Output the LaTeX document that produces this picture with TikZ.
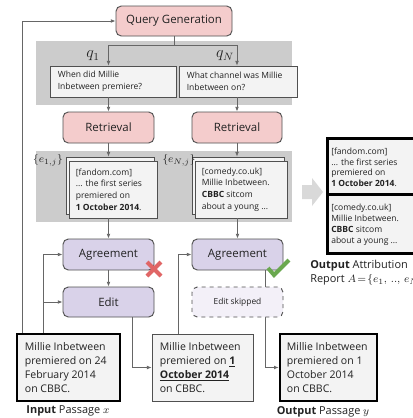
\documentclass[tikz,border=0pt]{standalone}
\usepackage{fontspec}
\setmainfont{Open Sans}
\usetikzlibrary{calc,arrows.meta}
\definecolor{pinkf}{HTML}{F4CCCC}
\definecolor{lavf}{HTML}{D9D2E9}
\definecolor{bandg}{HTML}{CCCCCC}
\definecolor{boxg}{HTML}{F3F3F3}
\definecolor{edgeg}{HTML}{505050}
\definecolor{conng}{HTML}{666666}
\definecolor{xred}{HTML}{E06666}
\definecolor{okgreen}{HTML}{6AA84F}
\definecolor{bigarrow}{HTML}{D9D9D9}
\definecolor{skipf}{HTML}{F3F0F8}
\definecolor{txt}{HTML}{222222}
\begin{document}
\begin{tikzpicture}[x=0.75pt,y=-0.75pt,
  wh/.style 2 args={minimum width=#1*0.75pt, minimum height=#2*0.75pt},
  stage/.style={draw=edgeg, line width=0.7pt, rounded corners=4pt, inner sep=0pt,
    text=txt, font=\fontsize{8.6}{10}\selectfont},
  pinkstage/.style={stage, fill=pinkf},
  lavstage/.style={stage, fill=lavf},
  skipbox/.style={draw=edgeg, dashed, line width=0.7pt, rounded corners=4pt, fill=skipf,
    inner sep=0pt, text=txt, font=\fontsize{6.3}{8}\selectfont},
  qbox/.style={draw=edgeg, fill=boxg, line width=0.6pt, inner sep=0pt},
  qtext/.style={inner sep=0pt, align=left, text=txt, font=\fontsize{6.4}{9}\selectfont},
  dtext/.style={inner sep=0pt, align=left, text=txt, font=\fontsize{6.4}{8.8}\selectfont},
  rtext/.style={inner sep=0pt, align=left, text=txt, font=\fontsize{6.4}{8.1}\selectfont},
  pass/.style={draw=edgeg, fill=boxg, line width=0.6pt, inner sep=0pt},
  thickpass/.style={draw=black, fill=boxg, line width=2pt, inner sep=0pt},
  ptext/.style={inner sep=0pt, align=left, text=txt, font=\fontsize{7.9}{10.3}\selectfont},
  lab/.style={inner sep=0pt, text=txt, font=\fontsize{8.2}{10.5}\selectfont},
  mlab/.style={inner sep=0pt, text=txt},
  conn/.style={draw=conng, line width=0.6pt, -{Latex[length=3.5pt,width=2.8pt]}},
  plain/.style={draw=conng, line width=0.6pt}
]
\fill[white] (0,0) rectangle (413,418);
\useasboundingbox (0,0) rectangle (413,418);

% grey bands
\fill[bandg] (36,41) rectangle (292,105);
\fill[bandg] (36,151) rectangle (292,222);

% query generation
\node[pinkstage, wh={116}{30}] (qg) at (174,21) {Query Generation};

% questions
\node[qbox, wh={126}{31}] (q1) at (113,81.5) {};
\node[qtext, anchor=west] (q1t) at ($(q1.west)+(8,0)$) {When did Millie\\Inbetween premiere?};
\node[qbox, wh={118}{31}] (qN) at (238,81.5) {};
\node[qtext, anchor=west] (qNt) at ($(qN.west)+(8,0)$) {What channel was Millie\\Inbetween on?};
\node[mlab, font=\fontsize{12}{12}\selectfont] (q1l) at (93,56) {$q_{1}$};
\node[mlab, font=\fontsize{12}{12}\selectfont] (qNl) at (225,56) {$q_{N}$};

% retrieval
\node[pinkstage, wh={91}{31}] (r1) at (108.5,127.5) {Retrieval};
\node[pinkstage, wh={90}{31}] (rN) at (237,127.5) {Retrieval};

% evidence stacks
\node[qbox, wh={88}{57}] (d1b) at (110,185.5) {};
\node[qbox, wh={88}{57}] (d1) at (113,189.5) {};
\node[dtext, anchor=west] (d1t) at ($(d1.west)+(7,0)$) {[fandom.com]\\... the first series\\premiered on\\\textbf{1 October 2014}.};
\node[qbox, wh={92}{57}] (dNb) at (238,185.5) {};
\node[qbox, wh={92}{57}] (dN) at (241,189.5) {};
\node[dtext, anchor=west] (dNt) at ($(dN.west)+(7,0)$) {[comedy.co.uk]\\Millie Inbetween.\\\textbf{CBBC} sitcom\\about a young ...};
\node[mlab, font=\fontsize{8}{8}\selectfont] (e1l) at (48,160) {$\{e_{1,j}\}$};
\node[mlab, font=\fontsize{8}{8}\selectfont] (eNl) at (179,160) {$\{e_{N,j}\}$};

% agreement / edit
\node[lavstage, wh={91}{31}] (a1) at (108.5,254.5) {Agreement};
\node[lavstage, wh={91}{31}] (aN) at (237.5,254.5) {Agreement};
\node[lavstage, wh={91}{30}] (ed) at (108.5,302) {Edit};

% passages
\node[thickpass, wh={103}{67}] (inp) at (68.5,367.5) {};
\node[ptext, anchor=west] (inpt) at ($(inp.west)+(9,0)$) {Millie Inbetween\\premiered on 24\\February 2014\\on CBBC.};
\node[pass, wh={101}{67}] (mid) at (202.5,367.5) {};
\node[ptext, anchor=west] (midt) at ($(mid.west)+(8,0)$) {Millie Inbetween\\premiered on \underline{\textbf{1}}\\\underline{\textbf{October 2014}}\\on CBBC.};
\node[thickpass, wh={97}{67}] (out) at (328.5,367.5) {};
\node[ptext, anchor=west] (outt) at ($(out.west)+(8,0)$) {Millie Inbetween\\premiered on 1\\October 2014\\on CBBC.};
\node[lab] (inl) at (68,411) {\textbf{Input} Passage $x$};
\node[lab] (outl) at (323,412) {\textbf{Output} Passage $y$};

% attribution report
\node[thickpass, wh={120}{56}, anchor=north west] (rep1) at (326,137) {};
\node[thickpass, wh={120}{59}, anchor=north west] (rep2) at (326,193) {};
\node[rtext, anchor=west] (rep1t) at ($(rep1.west)+(5,1)$) {[fandom.com]\\... the first series\\premiered on\\\textbf{1 October 2014}.};
\node[rtext, anchor=west] (rep2t) at ($(rep2.west)+(5,1)$) {[comedy.co.uk]\\Millie Inbetween.\\\textbf{CBBC} sitcom\\about a young ...};
\node[lab, anchor=west, align=left] (repl) at (310,273) {\textbf{Output} Attribution\\Report $A\!=\!\{e_{1},\,..,\,e_{N}\}$};
\fill[bigarrow] (302,185) -- (312,185) -- (312,178) -- (323,192) -- (312,206) -- (312,199) -- (302,199) -- cycle;

% connectors
\draw[conn] ($(inp.north west)+(7,0)$) |- (qg.west);
\draw[conn] ($(inp.north west)+(28,0)$) |- (a1.west);
\draw[conn] ($(inp.north west)+(28,0)$) |- (ed.west);
\draw[conn] (qg.south) -- ++(0,9) -| (r1.north |- q1.north);
\draw[conn] (qg.south) -- ++(0,9) -| (rN.north |- qN.north);
\draw[conn] (r1.north |- q1.south) -- (r1.north);
\draw[conn] (rN.north |- qN.south) -- (rN.north);
\draw[conn] (r1.south) -- (r1.south |- d1b.north);
\draw[conn] (rN.south) -- (rN.south |- dNb.north);
\draw[conn] (a1.north |- d1.south) -- (a1.north);
\draw[conn] (aN.north |- dN.south) -- (aN.north);
\draw[conn] (a1.south) -- (ed.north);
\draw[conn] ($(ed.south west)+(70,0)$) |- (mid.west);
\draw[conn] ($(mid.north west)+(27,0)$) |- (aN.west);
\draw[conn] ($(aN.south west)+(74,0)$) |- (out.west);

\node[skipbox, wh={91}{30}] (sk) at (237.5,302) {Edit skipped};

% marks
\draw[xred, line width=3pt] (147,262) -- (161,276) (147,276) -- (161,262);
\draw[okgreen, line width=3pt] (268,268) -- (274,275) -- (289,260);
\end{tikzpicture}
\end{document}
